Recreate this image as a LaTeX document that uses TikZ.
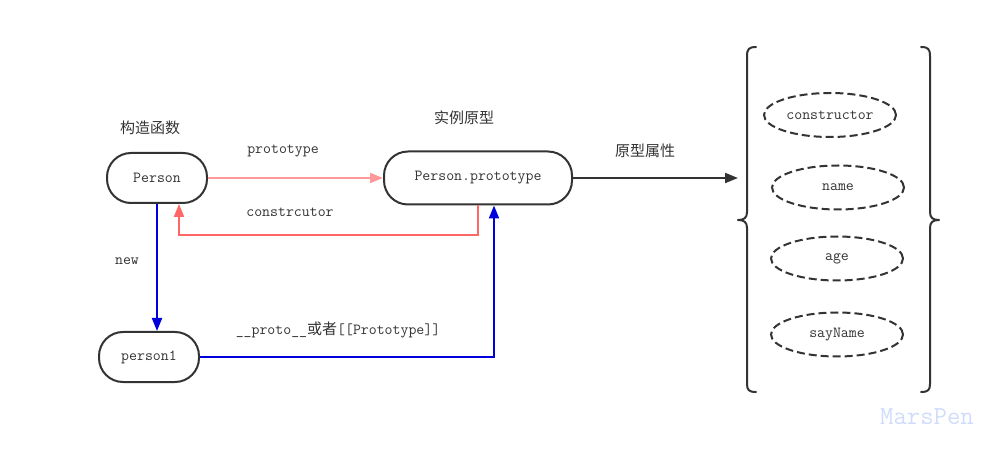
\documentclass[tikz,border=0pt]{standalone}
\usepackage{fontspec}
\newfontfamily\cjk{Noto Sans CJK SC}
\usetikzlibrary{arrows.meta,shapes.geometric}
\definecolor{ink}{HTML}{333333}
\definecolor{pinkline}{HTML}{FF9999}
\definecolor{redline}{HTML}{FF6666}
\definecolor{blueline}{HTML}{0000DD}
\definecolor{wm}{HTML}{D0DCFA}
\newcommand{\mytt}{\ttfamily\fontsize{15.4pt}{17pt}\selectfont}
\tikzset{
  pill/.style={draw=ink, line width=2pt, rounded corners=24pt, minimum height=50pt, text=ink, font=\mytt, inner sep=0pt},
  oval/.style={draw=ink, ellipse, line width=2pt, dash pattern=on 8pt off 4pt, minimum width=132pt, minimum height=44pt, text=ink, font=\mytt, inner sep=0pt},
  lbl/.style={text=ink, font=\mytt, inner sep=0pt},
  cjklbl/.style={text=ink, font=\cjk\fontsize{15pt}{17pt}\selectfont, inner sep=0pt},
  conn/.style={line width=2pt, -{Triangle[length=13pt,width=10pt]}},
  pinkarr/.style={conn, draw=pinkline},
  redarr/.style={conn, draw=redline},
  bluearr/.style={conn, draw=blueline},
  blackarr/.style={conn, draw=ink},
  bracestyle/.style={draw=ink, line width=2pt, line cap=round, line join=round}
}
\begin{document}
\begin{tikzpicture}[x=1pt,y=-1pt]
\useasboundingbox (0,0) rectangle (999,454);
% main nodes
\node[pill, minimum width=100pt] (person) at (157,178) {Person};
\node[pill, minimum width=188pt, minimum height=53pt] (proto) at (478,178) {Person.prototype};
\node[pill, minimum width=100pt] (person1) at (149,357) {person1};
% labels
\node[cjklbl] (lctor) at (150,128) {构造函数};
\node[cjklbl] (lproto) at (464,118) {实例原型};
\node[cjklbl] (lattr) at (645,151) {原型属性};
\node[lbl] (lprototype) at (283,151) {prototype};
\node[lbl] (lconstr) at (290,212) {constrcutor};
\node[lbl] (lnew) at (127,261) {new};
\node[lbl] (lproto2) at (338,330) {\_\_proto\_\_{\cjk\fontsize{15pt}{17pt}\selectfont 或者}[[Prototype]]};
% connectors
\coordinate (attrtip) at (738,178);
\draw[pinkarr] (person.east) -- (proto.west);
\draw[redarr] (proto.south) -- ++(0,30) -| ([xshift=22pt]person.south);
\draw[bluearr] (person.south) -- (person.south |- person1.north);
\draw[bluearr] (person1.east) -| ([xshift=16pt]proto.south);
\draw[blackarr] (proto.east) -- (attrtip);
% braces
\draw[bracestyle] (756,47) .. controls (749,47) and (747,49) .. (747,56)
  -- (747,212) .. controls (747,218) and (744,220) .. (738,220)
  .. controls (744,220) and (747,222) .. (747,228)
  -- (747,384) .. controls (747,390) and (749,392) .. (756,392);
\draw[bracestyle] (921,47) .. controls (928,47) and (930,49) .. (930,56)
  -- (930,212) .. controls (930,218) and (933,220) .. (939,220)
  .. controls (933,220) and (930,222) .. (930,228)
  -- (930,384) .. controls (930,390) and (928,392) .. (921,392);
% properties
\node[oval] (pctor) at (830,115) {constructor};
\node[oval] (pname) at (838,187.5) {name};
\node[oval] (page) at (837,258.5) {age};
\node[oval] (psay) at (837,334.5) {sayName};
% watermark
\node[text=wm, font=\ttfamily\fontsize{26pt}{29pt}\selectfont, inner sep=0pt] (mark) at (927,417) {MarsPen};
\end{tikzpicture}
\end{document}
